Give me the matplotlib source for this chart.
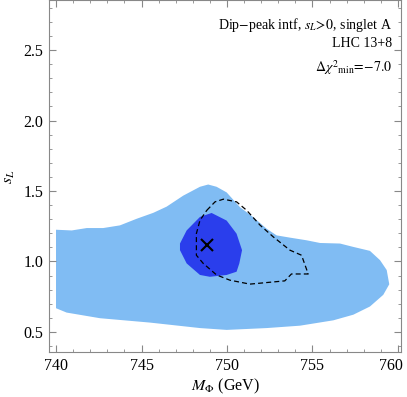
import matplotlib
matplotlib.use("Agg")
import matplotlib.pyplot as plt
import matplotlib.transforms as mtransforms
from matplotlib.ticker import MultipleLocator

plt.rcParams["font.family"] = ["Liberation Serif", "DejaVu Serif"]
plt.rcParams["mathtext.fontset"] = "stix"

# 2 sigma (light) region boundary
outer_m = [740.0, 740.92, 741.80, 742.76, 743.74, 744.72, 745.69, 746.47, 747.44, 748.42,
           748.90, 749.39, 749.98, 750.76, 751.54, 752.32, 752.90, 753.68, 754.66, 755.44,
           756.61, 757.39, 758.36, 758.95, 759.34, 759.49, 759.14, 758.36, 757.39, 756.22,
           754.27, 752.32, 749.98, 748.42, 745.49, 742.57, 740.62, 740.0]
outer_s = [1.225, 1.22, 1.237, 1.237, 1.256, 1.303, 1.345, 1.389, 1.467, 1.53,
           1.546, 1.53, 1.49, 1.385, 1.314, 1.232, 1.185, 1.169, 1.15, 1.131,
           1.127, 1.103, 1.075, 1.009, 0.939, 0.838, 0.763, 0.68, 0.622, 0.582,
           0.544, 0.527, 0.514, 0.527, 0.566, 0.597, 0.637, 0.668]

# 1 sigma (dark) region boundary
inner_m = [747.25, 747.64, 748.42, 749.10, 749.98, 750.56, 750.88, 750.72, 750.56, 749.98,
           749.00, 748.42, 747.64, 747.25]
inner_s = [1.127, 1.22, 1.316, 1.344, 1.29, 1.197, 1.08, 0.986, 0.927, 0.904,
           0.891, 0.904, 0.986, 1.08]

# dashed contour
dash_m = [748.82, 749.30, 749.79, 750.56, 751.15, 751.93, 752.71, 753.68, 754.36, 754.75,
          753.77, 753.38, 751.34, 750.17, 749.39, 748.61, 748.21, 748.21, 748.42, 748.82]
dash_s = [1.363, 1.423, 1.442, 1.423, 1.363, 1.258, 1.174, 1.08, 1.044, 0.911,
          0.911, 0.862, 0.839, 0.867, 0.904, 0.986, 1.044, 1.198, 1.292, 1.363]

best_m, best_s = 748.85, 1.115

fig = plt.figure(figsize=(4.07, 3.97), dpi=100)
ax = fig.add_axes([0.1204, 0.1126, 0.865, 0.8864])

ax.fill(outer_m, outer_s, color="#80bcf3", lw=0)
ax.fill(inner_m, inner_s, color="#2a3eec", lw=0)
ax.plot(dash_m, dash_s, color="black", lw=0.9, ls=(0, (4, 2.5)))
ax.plot([best_m], [best_s], marker="x", color="black", ms=9, mew=1.5)

ax.set_xlim(739.59, 760.18)
ax.set_ylim(0.355, 2.853)
ax.xaxis.set_major_locator(MultipleLocator(5))
ax.xaxis.set_minor_locator(MultipleLocator(1))
ax.yaxis.set_major_locator(MultipleLocator(0.5))
ax.yaxis.set_minor_locator(MultipleLocator(0.1))
ax.tick_params(which="both", direction="in", top=True, right=True, color="#888888",
               labelsize=11.5, pad=4)
ax.tick_params(which="major", length=5)
ax.tick_params(which="minor", length=2.5)
for sp in ax.spines.values():
    sp.set_color("#888888")

ax.set_xlabel(r"$M_\Phi$ (GeV)", fontsize=11.5, labelpad=2)
ax.set_ylabel(r"$s_L$", fontsize=11.5, labelpad=5)

# keep the last x tick label inside the picture, as in the original
fig.canvas.draw()
last = [t for t in ax.get_xticklabels() if t.get_text() == "760"]
for t in last:
    t.set_horizontalalignment("right")
    t.set_transform(t.get_transform() + mtransforms.ScaledTranslation(5 / 100, 0, fig.dpi_scale_trans))

ax.text(0.975, 0.955, r"Dip$-$peak intf, $s_L\!>\!0$, singlet A", transform=ax.transAxes,
        ha="right", va="top", fontsize=10)
ax.text(0.975, 0.895, "LHC 13+8", transform=ax.transAxes, ha="right", va="top", fontsize=10)
ax.text(0.975, 0.835, r"$\Delta\chi^2{}_{\rm min}\!=\!{-}7.0$", transform=ax.transAxes,
        ha="right", va="top", fontsize=10)

fig.savefig("out.png", dpi=100)
